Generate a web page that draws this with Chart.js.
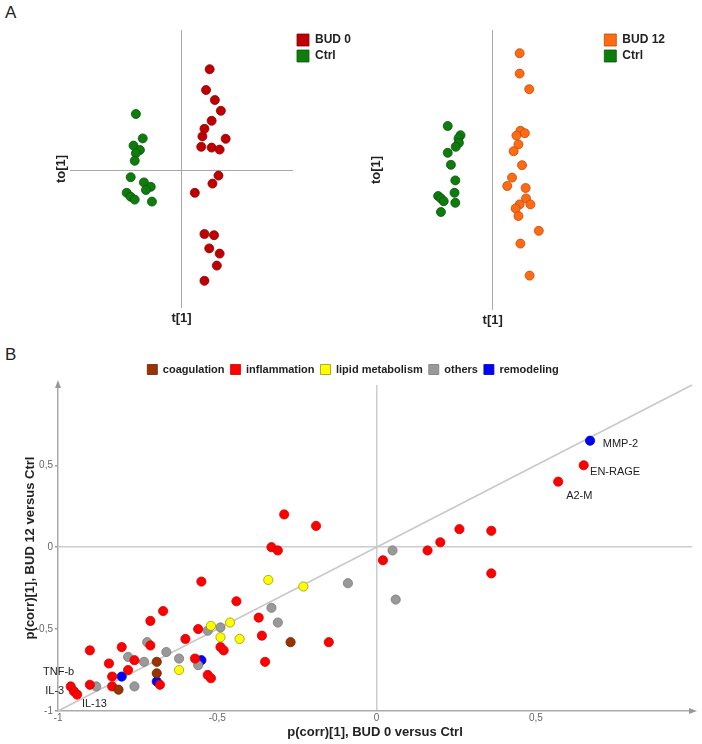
<!DOCTYPE html>
<html>
<head>
<meta charset="utf-8">
<script src="https://cdn.jsdelivr.net/npm/chart.js@4.4.0/dist/chart.umd.min.js"></script>
<style>
  html, body { margin: 0; padding: 0; background: #fff; }
  body { width: 702px; height: 744px; position: relative; overflow: hidden; font-family: Arial, "Liberation Sans", sans-serif; }
  .panel-letter { position: absolute; font-size: 17px; color: #222; }
  canvas { position: absolute; }
</style>
</head>
<body>
<div class="panel-letter" style="left:5px;top:3px;">A</div>
<div class="panel-letter" style="left:5px;top:345px;">B</div>
<canvas id="scoreBud0" width="361" height="330" style="left:0;top:0"></canvas>
<canvas id="scoreBud12" width="325" height="330" style="left:350px;top:0"></canvas>
<canvas id="loadings" width="688" height="385" style="left:14px;top:358px"></canvas>
<script>
// panel A scores, [t[1], to[1]]
const bud0Scores = [[0.71,2.53],[0.62,2.01],[0.84,1.76],[0.99,1.49],[0.76,1.24],[0.58,1.04],[0.53,0.85],[1.11,0.79],[0.50,0.59],[0.76,0.57],[0.96,0.52],[0.93,-0.13],[0.78,-0.33],[0.34,-0.56],[0.58,-1.59],[0.82,-1.62],[0.70,-1.95],[0.96,-2.08],[0.89,-2.38],[0.58,-2.76]];
const ctrlScores0 = [[-1.13,1.41],[-0.96,0.80],[-1.19,0.62],[-1.03,0.51],[-1.13,0.43],[-1.16,0.24],[-1.26,-0.17],[-0.93,-0.30],[-0.76,-0.41],[-0.88,-0.49],[-1.36,-0.56],[-1.26,-0.66],[-1.16,-0.73],[-0.73,-0.78]];
const bud12Scores = [[0.68,2.93],[0.68,2.42],[0.92,2.03],[0.70,0.99],[0.81,0.93],[0.60,0.87],[0.65,0.65],[0.53,0.48],[0.74,0.13],[0.49,-0.18],[0.37,-0.39],[0.83,-0.44],[0.84,-0.70],[0.95,-0.85],[0.68,-0.85],[0.58,-0.95],[0.65,-1.14],[1.16,-1.51],[0.70,-1.83],[0.93,-2.63]];
const ctrlScores12 = [[-1.12,1.11],[-0.80,0.88],[-0.85,0.80],[-0.84,0.69],[-0.92,0.59],[-1.12,0.44],[-1.04,0.14],[-0.93,-0.25],[-0.95,-0.56],[-1.36,-0.64],[-1.29,-0.70],[-1.22,-0.77],[-0.93,-0.81],[-1.29,-1.04]];

// panel B, [p(corr) BUD 0 vs Ctrl, p(corr) BUD 12 vs Ctrl]
const coagulation = [[-0.27,-0.58],[-0.69,-0.70],[-0.69,-0.77],[-0.81,-0.87]];
const inflammation = [[-0.29,0.20],[-0.19,0.13],[-0.33,0.00],[-0.31,-0.02],[-0.55,-0.21],[-0.44,-0.33],[-0.67,-0.39],[-0.71,-0.45],[-0.37,-0.43],[-0.56,-0.50],[-0.60,-0.56],[-0.36,-0.54],[-0.15,-0.58],[-0.90,-0.63],[-0.80,-0.61],[-0.71,-0.60],[-0.49,-0.61],[-0.48,-0.63],[-0.35,-0.70],[-0.76,-0.69],[-0.57,-0.68],[-0.84,-0.71],[-0.78,-0.75],[-0.83,-0.79],[-0.68,-0.84],[-0.53,-0.78],[-0.52,-0.80],[-0.90,-0.84],[-0.83,-0.85],[-0.96,-0.85],[-0.95,-0.88],[-0.94,-0.90],[0.65,0.50],[0.57,0.40],[0.26,0.11],[0.36,0.10],[0.20,0.03],[0.16,-0.02],[0.02,-0.08],[0.36,-0.16]];
const lipidMetabolism = [[-0.34,-0.20],[-0.23,-0.24],[-0.52,-0.48],[-0.46,-0.46],[-0.49,-0.55],[-0.43,-0.56],[-0.62,-0.75]];
const others = [[-0.09,-0.22],[0.05,-0.02],[0.06,-0.32],[-0.33,-0.37],[-0.31,-0.46],[-0.49,-0.49],[-0.53,-0.51],[-0.72,-0.58],[-0.66,-0.64],[-0.78,-0.67],[-0.73,-0.70],[-0.62,-0.68],[-0.56,-0.72],[-0.88,-0.85],[-0.76,-0.85]];
const remodeling = [[0.67,0.65],[-0.55,-0.69],[-0.80,-0.79],[-0.69,-0.82]];
const proteinLabels = [['MMP-2',0.71,0.63],['EN-RAGE',0.67,0.46],['A2-M',0.595,0.31],['TNF-b',-1.047,-0.76],['IL-3',-1.04,-0.88],['IL-13',-0.925,-0.96]];
const tickValues = [-1, -0.5, 0, 0.5];

const toXY = pts => pts.map(p => ({ x: p[0], y: p[1] }));
const zeroOnly = c => ctx => (ctx.tick && ctx.tick.value === 0) ? c : 'rgba(0,0,0,0)';
const commaTick = v => String(v).replace('.', ',');
const boldTitle = { size: 13, weight: 'bold', family: 'Arial, "Liberation Sans", sans-serif' };

function scoreChart(id, groups, o) {
  new Chart(document.getElementById(id), {
    type: 'scatter',
    data: {
      datasets: groups.map(g => ({
        label: g.label, data: toXY(g.points),
        backgroundColor: g.fill, borderColor: g.edge, borderWidth: 0.8,
        pointRadius: 4.5, pointHoverRadius: 4.5
      }))
    },
    options: {
      responsive: false, animation: false,
      layout: { padding: { top: 30 } },
      plugins: {
        tooltip: { enabled: false },
        legend: {
          position: 'right', align: 'start',
          labels: { boxWidth: 12, boxHeight: 12, padding: 4, color: '#222',
                    font: { size: 12, weight: 'bold', family: 'Arial, "Liberation Sans", sans-serif' } }
        }
      },
      scales: {
        x: {
          min: o.xMin, max: o.xMax,
          afterFit: s => { s.height = o.bottom; },
          border: { display: false },
          ticks: { display: false, stepSize: 1 },
          grid: { drawTicks: false, color: zeroOnly('#a8a8a8'), lineWidth: 1 },
          title: { display: true, text: 't[1]', color: '#222', font: boldTitle, padding: { top: 0, bottom: o.xPad } }
        },
        y: {
          min: o.yMin, max: o.yMax,
          afterFit: s => { s.width = o.left; },
          border: { display: false },
          ticks: { display: false, stepSize: 1 },
          grid: { drawTicks: false, color: zeroOnly('#a8a8a8'), lineWidth: 1 },
          title: { display: true, text: 'to[1]', color: '#222', font: boldTitle, padding: { top: o.yPad, bottom: 0 } }
        }
      }
    }
  });
}

scoreChart('scoreBud0', [
  { label: 'BUD 0', points: bud0Scores, fill: '#c00000', edge: '#8a0000' },
  { label: 'Ctrl', points: ctrlScores0, fill: '#0e7d0e', edge: '#0a560a' }
], { xMin: -2.775, xMax: 2.79, yMin: -3.44, yMax: 3.51, left: 70, bottom: 22, yPad: 54, xPad: 4 });

scoreChart('scoreBud12', [
  { label: 'BUD 12', points: bud12Scores, fill: '#ff6a14', edge: '#c04a08' },
  { label: 'Ctrl', points: ctrlScores12, fill: '#0e7d0e', edge: '#0a560a' }
], { xMin: -2.69, xMax: 2.70, yMin: -3.49, yMax: 3.51, left: 35, bottom: 20, yPad: 19, xPad: 2 });

const loadingsDecor = {
  id: 'loadingsDecor',
  beforeDatasetsDraw(chart) {
    const { ctx, chartArea, scales: { x, y } } = chart;
    const lo = Math.max(x.min, y.min), hi = Math.min(x.max, y.max);
    ctx.save();
    ctx.strokeStyle = '#c8c8c8';
    ctx.lineWidth = 1.5;
    ctx.beginPath();
    ctx.moveTo(x.getPixelForValue(lo), y.getPixelForValue(lo));
    ctx.lineTo(x.getPixelForValue(hi), y.getPixelForValue(hi));
    ctx.stroke();
    // arrow heads on the axes
    ctx.fillStyle = '#999';
    ctx.beginPath();
    ctx.moveTo(chartArea.left, chartArea.top - 5);
    ctx.lineTo(chartArea.left - 3, chartArea.top + 3);
    ctx.lineTo(chartArea.left + 3, chartArea.top + 3);
    ctx.fill();
    ctx.beginPath();
    ctx.moveTo(chartArea.right + 5, chartArea.bottom);
    ctx.lineTo(chartArea.right - 3, chartArea.bottom - 3);
    ctx.lineTo(chartArea.right - 3, chartArea.bottom + 3);
    ctx.fill();
    ctx.restore();
  },
  afterDatasetsDraw(chart) {
    const { ctx, scales: { x, y } } = chart;
    ctx.save();
    ctx.font = '11px Arial, "Liberation Sans", sans-serif';
    ctx.fillStyle = '#222';
    ctx.textAlign = 'left';
    ctx.textBaseline = 'middle';
    proteinLabels.forEach(l => ctx.fillText(l[0], x.getPixelForValue(l[1]), y.getPixelForValue(l[2])));
    ctx.restore();
  }
};

const categories = [
  { label: 'coagulation', points: coagulation, fill: '#993300', edge: '#6a2300' },
  { label: 'inflammation', points: inflammation, fill: '#ff0000', edge: '#d40000' },
  { label: 'lipid metabolism', points: lipidMetabolism, fill: '#ffff00', edge: '#9a9a00' },
  { label: 'others', points: others, fill: '#999999', edge: '#7a7a7a' },
  { label: 'remodeling', points: remodeling, fill: '#0000ff', edge: '#0000b0' }
];

new Chart(document.getElementById('loadings'), {
  type: 'scatter',
  data: {
    datasets: categories.map(c => ({
      label: c.label, data: toXY(c.points),
      backgroundColor: c.fill, borderColor: c.edge, borderWidth: 0.8,
      pointRadius: 4.6, pointHoverRadius: 4.6
    }))
  },
  plugins: [loadingsDecor],
  options: {
    responsive: false, animation: false,
    layout: { padding: { right: 10 } },
    plugins: {
      tooltip: { enabled: false },
      legend: {
        position: 'top', align: 'center',
        labels: { boxWidth: 10, boxHeight: 10, padding: 6, color: '#222',
                  font: { size: 11, weight: 'bold', family: 'Arial, "Liberation Sans", sans-serif' } }
      }
    },
    scales: {
      x: {
        min: -1, max: 0.99,
        afterFit: s => { s.height = 32; },
        afterBuildTicks: s => { s.ticks = tickValues.map(v => ({ value: v })); },
        border: { color: '#aaa', width: 1.5 },
        ticks: { color: '#666', font: { size: 10 }, padding: 1, callback: commaTick },
        grid: { drawTicks: false, color: zeroOnly('#cccccc'), lineWidth: 1.5 },
        title: { display: true, text: 'p(corr)[1], BUD 0 versus Ctrl', color: '#222', font: boldTitle, padding: { top: 0, bottom: 3 } }
      },
      y: {
        min: -1, max: 0.99,
        afterFit: s => { s.width = 44; },
        afterBuildTicks: s => { s.ticks = tickValues.map(v => ({ value: v })); },
        border: { color: '#aaa', width: 1.5 },
        ticks: { color: '#666', font: { size: 10 }, padding: 2, callback: commaTick },
        grid: { tickLength: 3, tickColor: '#999', color: zeroOnly('#cccccc'), lineWidth: 1.5 },
        title: { display: true, text: 'p(corr)[1], BUD 12 versus Ctrl', color: '#222', font: boldTitle, padding: { top: 9, bottom: 0 } }
      }
    }
  }
});
</script>
</body>
</html>
